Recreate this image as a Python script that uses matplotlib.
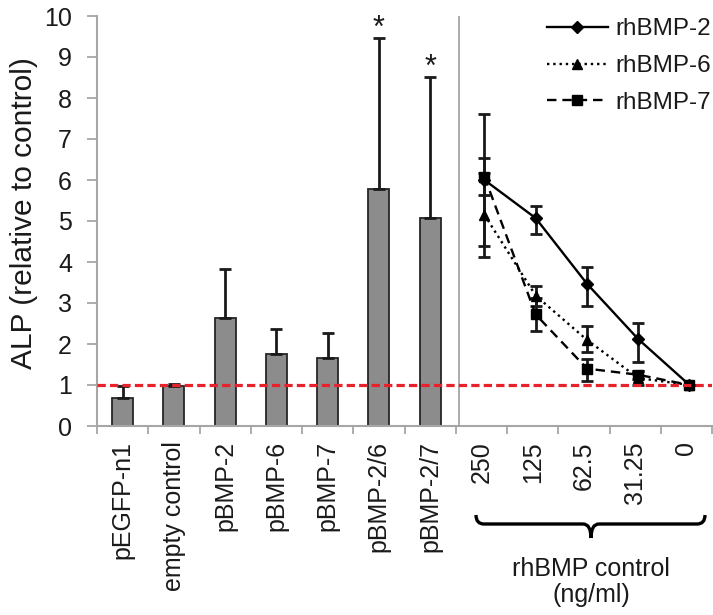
import matplotlib
matplotlib.use("Agg")
import matplotlib.pyplot as plt
import numpy as np
from matplotlib.path import Path
from matplotlib.patches import PathPatch

plt.rcParams["font.family"] = ["Liberation Sans", "DejaVu Sans"]
plt.rcParams["font.size"] = 18

# bar part (plasmid groups)
bar_labels = ["pEGFP-n1", "empty control", "pBMP-2", "pBMP-6", "pBMP-7", "pBMP-2/6", "pBMP-2/7"]
bar_values = [0.69, 0.98, 2.63, 1.76, 1.66, 5.78, 5.08]
bar_err = [0.29, 0.04, 1.21, 0.60, 0.60, 3.69, 3.43]
starred = ["pBMP-2/6", "pBMP-2/7"]

# line part (recombinant protein controls)
doses = ["250", "125", "62.5", "31.25", "0"]
bmp2 = [6.00, 5.07, 3.47, 2.12, 1.00]
bmp2_lo = [1.60, 0.38, 0.55, 0.55, 0.0]
bmp2_hi = [1.60, 0.30, 0.40, 0.40, 0.0]
bmp6 = [5.15, 3.18, 2.10, 1.17, 1.00]
bmp6_lo = [1.02, 0.25, 0.30, 0.17, 0.0]
bmp6_hi = [1.02, 0.23, 0.34, 0.17, 0.0]
bmp7 = [6.08, 2.72, 1.40, 1.25, 1.00]
bmp7_lo = [0.45, 0.40, 0.30, 0.10, 0.0]
bmp7_hi = [0.45, 0.40, 0.23, 0.10, 0.0]

GRAY_AX = "#a6a6a6"
TXT = "#1a1a1a"

fig = plt.figure(figsize=(7.13, 6.15), dpi=100)
ax = fig.add_axes([97 / 713, 1 - 426 / 615, 615 / 713, 410 / 615])

xb = np.arange(len(bar_labels))
ax.bar(xb, bar_values, width=0.41, color="#8c8c8c", edgecolor="#262626", linewidth=1.3, zorder=2)
ax.errorbar(xb, bar_values, yerr=[np.zeros(len(bar_err)), bar_err], fmt="none",
            ecolor="#1a1a1a", elinewidth=2, capsize=4, capthick=2, zorder=3)
for i, lab in enumerate(bar_labels):
    if lab in starred:
        ax.text(i, bar_values[i] + bar_err[i] + 0.02, "*", ha="center", va="baseline",
                fontsize=22, color=TXT)

xl = np.arange(len(bar_labels), len(bar_labels) + len(doses)) + 0.06
series = [
    ("rhBMP-2", bmp2, bmp2_lo, bmp2_hi, "D", "-", 6),
    ("rhBMP-6", bmp6, bmp6_lo, bmp6_hi, "^", ":", 7.5),
    ("rhBMP-7", bmp7, bmp7_lo, bmp7_hi, "s", (0, (4, 2.5)), 6.5),
]
for name, vals, lo, hi, mk, ls, ms in series:
    ax.errorbar(xl, vals, yerr=[lo, hi], fmt="none", ecolor="#1a1a1a",
                elinewidth=2, capsize=4, capthick=2, zorder=4)
    ax.plot(xl, vals, linestyle=ls, color="black", linewidth=1.7, marker=mk,
            markersize=ms, label=name, zorder=5)

ax.axhline(1.0, color="#e8222a", linewidth=2.3, linestyle=(0, (2.6, 1.3)), zorder=6)
ax.axvline(len(bar_labels) - 0.44, color=GRAY_AX, linewidth=1.3, zorder=1)

ax.set_xlim(-0.5, len(bar_labels) + len(doses) - 0.5)
ax.set_ylim(0, 10)
ax.set_yticks(range(0, 11))
ax.set_xticks(np.arange(len(bar_labels) + len(doses)))
ax.set_xticklabels(bar_labels + doses, rotation=90, color=TXT)
ax.set_xticks(np.arange(-0.5, len(bar_labels) + len(doses)), minor=True)
ax.tick_params(axis="x", which="major", length=0, pad=11)
ax.tick_params(axis="x", which="minor", length=6, width=1.3, color=GRAY_AX)
ax.tick_params(axis="y", length=7, width=1.3, color=GRAY_AX, pad=11, labelcolor=TXT)
for s in ["top", "right"]:
    ax.spines[s].set_visible(False)
for s in ["left", "bottom"]:
    ax.spines[s].set_color(GRAY_AX)
    ax.spines[s].set_linewidth(1.5)

ax.set_ylabel("ALP (relative to control)", fontsize=21.5, color=TXT)
ax.yaxis.set_label_coords(-0.096, 0.52)

leg = ax.legend(loc="upper left", bbox_to_anchor=(547 / 713, 0.970), bbox_transform=fig.transFigure,
                frameon=False, handlelength=2.5, handletextpad=0.3, labelspacing=0.6,
                borderpad=0, borderaxespad=0, fontsize=17.5)
for t in leg.get_texts():
    t.set_color(TXT)

# curly brace under the dose labels
x0, x1, xm = 476 / 713, 705 / 713, 591 / 713
yt, ym, yb = 1 - 515 / 615, 1 - 524 / 615, 1 - 538 / 615
r = 8 / 713
verts = [(x0, yt), (x0, ym), (x0 + r, ym), (xm - r, ym), (xm, ym), (xm, yb),
         (xm, yb), (xm, ym), (xm + r, ym), (x1 - r, ym), (x1, ym), (x1, yt)]
codes = [Path.MOVETO, Path.CURVE3, Path.CURVE3, Path.LINETO, Path.CURVE3, Path.CURVE3,
         Path.MOVETO, Path.CURVE3, Path.CURVE3, Path.LINETO, Path.CURVE3, Path.CURVE3]
fig.patches.append(PathPatch(Path(verts, codes), transform=fig.transFigure, fill=False,
                             edgecolor="black", linewidth=2.4))
fig.text(xm, 1 - 582 / 615, "rhBMP control\n(ng/ml)", ha="center", va="center",
         fontsize=18, color=TXT, linespacing=1.15)

fig.savefig("out.png", dpi=100)
